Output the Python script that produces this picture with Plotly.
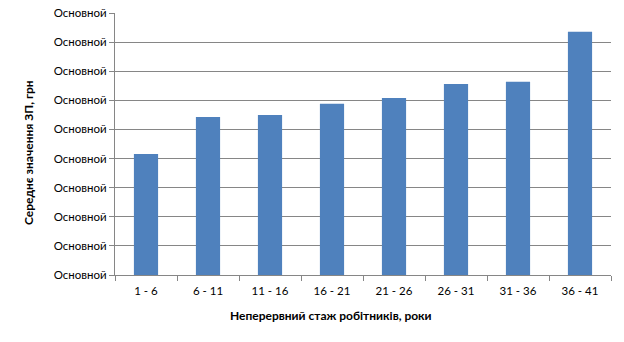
import plotly.graph_objects as go

categories = ["1 - 6", "6 - 11", "11 - 16", "16 - 21", "21 - 26", "26 - 31", "31 - 36", "36 - 41"]
values = [4.16, 5.43, 5.5, 5.88, 6.08, 6.56, 6.64, 8.36]
y_tick_vals = [0, 1, 2, 3, 4, 5, 6, 7, 8, 9]
y_tick_text = ["Основной"] * len(y_tick_vals)
x_title = "Неперервний стаж робітників, роки"
y_title = "Середнє значення ЗП, грн"

fig = go.Figure(go.Bar(x=categories, y=values, marker_color="#4F81BD", marker_line_width=0))

fig.update_layout(
    width=624, height=342,
    margin=dict(l=115, r=13, t=13, b=67),
    paper_bgcolor="white", plot_bgcolor="white",
    bargap=0.61,
    font=dict(family="Lato, DejaVu Sans, sans-serif", size=11.5, color="black"),
    showlegend=False,
    annotations=[
        dict(text="<b>" + x_title + "</b>", xref="paper", yref="paper",
             x=(331 - 115) / 496, y=-(315 - 275) / 262, xanchor="center", yanchor="middle",
             showarrow=False, font=dict(size=12)),
        dict(text="<b>" + y_title + "</b>", xref="paper", yref="paper",
             x=-(115 - 28) / 496, y=(275 - 153) / 262, xanchor="center", yanchor="middle",
             textangle=-90, showarrow=False, font=dict(size=12)),
    ],
)
fig.update_xaxes(
    type="category", tickson="boundaries", ticks="outside", ticklen=5,
    tickcolor="#868686", showline=True, linecolor="#868686", linewidth=1,
    showgrid=False, automargin=False, ticklabelstandoff=5,
)
fig.update_yaxes(
    range=[0, 9], tickvals=y_tick_vals, ticktext=y_tick_text,
    ticks="outside", ticklen=5, tickcolor="#868686",
    showline=True, linecolor="#868686", linewidth=1,
    showgrid=True, gridcolor="#868686", gridwidth=1, zeroline=False, automargin=False,
)

fig.write_html("out.html")
